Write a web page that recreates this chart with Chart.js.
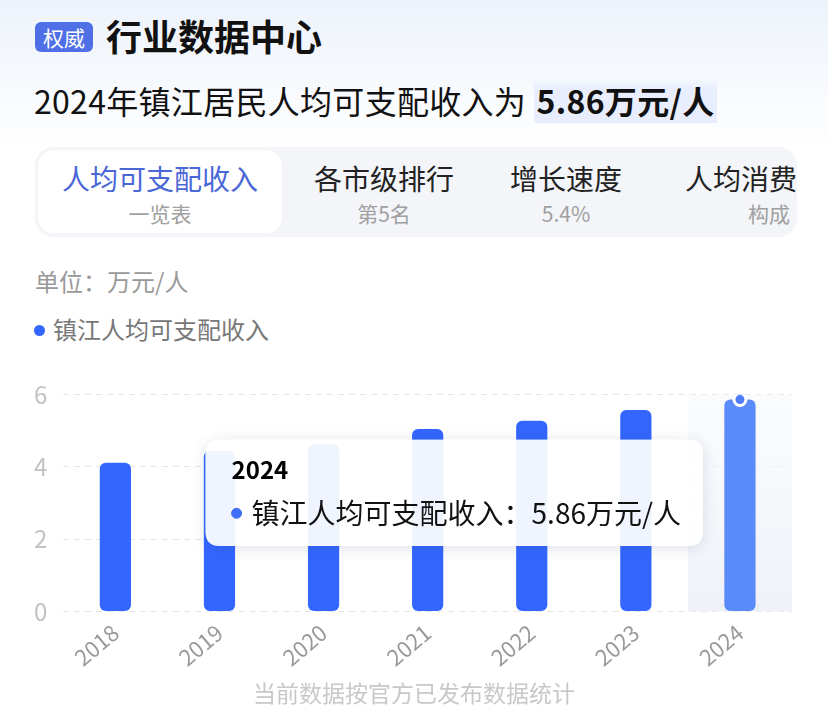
<!DOCTYPE html>
<html lang="zh-CN">
<head>
<meta charset="utf-8">
<title>镇江居民人均可支配收入</title>
<script src="https://cdn.jsdelivr.net/npm/chart.js@4.4.1/dist/chart.umd.min.js"></script>
<style>
	html, body { margin: 0; padding: 0; }
	body {
		width: 828px; height: 728px; position: relative; overflow: hidden;
		font-family: "Noto Sans CJK SC", "Noto Sans", sans-serif;
		background: linear-gradient(180deg, #edf3fb 0, #ffffff 150px);
		color: #111;
	}
	.badge {
		position: absolute; left: 35px; top: 22px; width: 58px; height: 30px;
		background: #4e6fe6; color: #fff; border-radius: 6px;
		font-size: 21px; line-height: 30px; text-align: center;
	}
	.title { position: absolute; left: 106px; top: 12px; font-size: 36px; font-weight: 600; line-height: 46px; }
	.subtitle { position: absolute; left: 34px; top: 78px; font-size: 32px; line-height: 44px; white-space: nowrap; letter-spacing: 0.3px; }
	.subtitle b { font-weight: 600; background: linear-gradient(180deg, rgba(232,239,253,0) 0, #e8eefd 25%, #e8eefd 100%); padding: 0 3px; }
	.tabs {
		position: absolute; left: 35px; top: 147px; width: 762px; height: 90px;
		background: #f3f5f9; border-radius: 18px; overflow: hidden;
	}
	.tab { position: absolute; top: 3px; height: 83px; text-align: center; white-space: nowrap; }
	.tab.active { background: #fff; border-radius: 16px; }
	.tab .main { font-size: 28px; line-height: 28px; margin-top: 14px; color: #222; }
	.tab.active .main { color: #4a67d6; }
	.tab .sub { font-size: 21px; line-height: 21px; margin-top: 11px; color: #a0a0a0; }
	.unit { position: absolute; left: 35px; top: 263px; font-size: 24px; color: #999; }
	.legend { position: absolute; left: 34px; top: 311px; font-size: 24px; color: #777; }
	.legend i { display: inline-block; width: 11px; height: 11px; border-radius: 50%; background: #3366ff; margin-right: 8px; vertical-align: 3px; }
	.chart-box { position: absolute; left: 0; top: 364px; width: 828px; height: 316px; }
	.note { position: absolute; left: 0; width: 828px; top: 675px; text-align: center; font-size: 23px; color: #c8c8c8; }
</style>
</head>
<body>
	<div class="badge">权威</div>
	<div class="title">行业数据中心</div>
	<div class="subtitle">2024年镇江居民人均可支配收入为 <b>5.86万元/人</b></div>
	<div class="tabs">
		<div class="tab active" style="left:3px;width:244px"><div class="main">人均可支配收入</div><div class="sub">一览表</div></div>
		<div class="tab" style="left:259px;width:180px"><div class="main">各市级排行</div><div class="sub">第5名</div></div>
		<div class="tab" style="left:441px;width:180px"><div class="main">增长速度</div><div class="sub">5.4%</div></div>
		<div class="tab" style="left:644px;width:180px"><div class="main">人均消费支出</div><div class="sub">构成</div></div>
	</div>
	<div class="unit">单位：万元/人</div>
	<div class="legend"><i></i>镇江人均可支配收入</div>
	<div class="chart-box"><canvas id="incomeChart"></canvas></div>
	<div class="note">当前数据按官方已发布数据统计</div>

<script>
const years = ["2018", "2019", "2020", "2021", "2022", "2023", "2024"];
const incomeValues = [4.11, 4.44, 4.62, 5.04, 5.27, 5.57, 5.86];
const yTicks = [0, 2, 4, 6];
const seriesName = "镇江人均可支配收入";
const unitText = "万元/人";
const activeIndex = years.length - 1;

const barColors = years.map((y, i) => (i === activeIndex ? "#5b8af9" : "#3366ff"));
const markerData = incomeValues.map((v, i) => (i === activeIndex ? v : null));

// light band behind the hovered year
const hoverBand = {
	id: "hoverBand",
	beforeDatasetsDraw(chart) {
		const { ctx, chartArea, scales } = chart;
		const step = (chartArea.right - chartArea.left) / years.length;
		const cx = scales.x.getPixelForValue(activeIndex);
		const g = ctx.createLinearGradient(0, chartArea.top, 0, chartArea.bottom);
		g.addColorStop(0, "rgba(246,248,252,0.5)");
		g.addColorStop(1, "rgba(238,241,248,1)");
		ctx.save();
		ctx.fillStyle = g;
		ctx.fillRect(cx - step / 2, chartArea.top, step, chartArea.bottom - chartArea.top);
		ctx.restore();
	},
};

// soft shadow round the tooltip, drawn outside its box only
const tooltipShadow = {
	id: "tooltipShadow",
	beforeTooltipDraw(chart, args) {
		const tt = args.tooltip;
		if (!tt || !tt.opacity) return;
		const { ctx } = chart;
		ctx.save();
		ctx.beginPath();
		ctx.rect(0, 0, chart.width, chart.height);
		ctx.roundRect(tt.x, tt.y, tt.width, tt.height, 14);
		ctx.clip("evenodd");
		ctx.shadowColor = "rgba(40,60,110,0.16)";
		ctx.shadowBlur = 14;
		ctx.shadowOffsetY = 2;
		ctx.fillStyle = "#fff";
		ctx.beginPath();
		ctx.roundRect(tt.x, tt.y, tt.width, tt.height, 14);
		ctx.fill();
		ctx.restore();
	},
};

Chart.Tooltip.positioners.besideBar = function (items) {
	if (!items.length) return false;
	const area = this.chart.chartArea;
	return { x: items[0].element.x - 37, y: (area.top + area.bottom) / 2 - 10 };
};

const ctx = document.getElementById("incomeChart").getContext("2d");

const chart = new Chart(ctx, {
	type: "bar",
	data: {
		labels: years,
		datasets: [
			{
				label: seriesName,
				data: incomeValues,
				backgroundColor: barColors,
				borderRadius: 6,
				borderSkipped: false,
				barPercentage: 0.3,
				categoryPercentage: 1,
				order: 1,
			},
			{
				type: "line",
				label: "marker",
				data: markerData,
				showLine: false,
				pointRadius: 6,
				pointBorderWidth: 3,
				pointBackgroundColor: "#4d7cf6",
				pointBorderColor: "#ffffff",
				order: 0,
			},
		],
	},
	options: {
		responsive: true,
		maintainAspectRatio: false,
		animation: false,
		events: [],
		layout: { padding: { left: 18, right: 36, top: 15, bottom: 1 } },
		plugins: {
			legend: { display: false },
			tooltip: {
				position: "besideBar",
				xAlign: "right",
				yAlign: "center",
				caretSize: 0,
				caretPadding: 0,
				filter: item => item.datasetIndex === 0,
				backgroundColor: "rgba(255,255,255,0.93)",
				titleColor: "#000",
				bodyColor: "#111",
				titleFont: { family: "Noto Sans CJK SC", size: 24, weight: "bold" },
				bodyFont: { family: "Noto Sans CJK SC", size: 28 },
				titleMarginBottom: 12,
				padding: { left: 26, right: 22, top: 16, bottom: 16 },
				cornerRadius: 14,
				displayColors: true,
				usePointStyle: true,
				boxWidth: 10,
				boxHeight: 10,
				boxPadding: 8,
				callbacks: {
					label: item => `${seriesName}：${item.raw.toFixed(2)}${unitText}`,
					labelColor: () => ({ borderColor: "#3f6ef5", backgroundColor: "#3f6ef5" }),
					labelPointStyle: () => ({ pointStyle: "circle", rotation: 0 }),
				},
			},
		},
		scales: {
			x: {
				grid: { display: false, drawTicks: false },
				border: { display: false },
				ticks: {
					color: "#9a9a9a",
					font: { family: "Noto Sans CJK SC", size: 22 },
					minRotation: 40,
					maxRotation: 40,
					padding: 8,
				},
			},
			y: {
				min: 0,
				max: 6,
				afterBuildTicks: axis => {
					axis.ticks = yTicks.map(v => ({ value: v }));
				},
				grid: { color: "#e6e6e6", lineWidth: 1, drawTicks: false },
				border: { display: false, dash: [6, 5] },
				ticks: {
					color: "#c2c2c2",
					font: { family: "Noto Sans CJK SC", size: 24 },
					padding: 16,
				},
			},
		},
	},
	plugins: [hoverBand, tooltipShadow],
});

chart.tooltip.setActiveElements([{ datasetIndex: 0, index: activeIndex }], { x: 0, y: 0 });
chart.update();
</script>
</body>
</html>
